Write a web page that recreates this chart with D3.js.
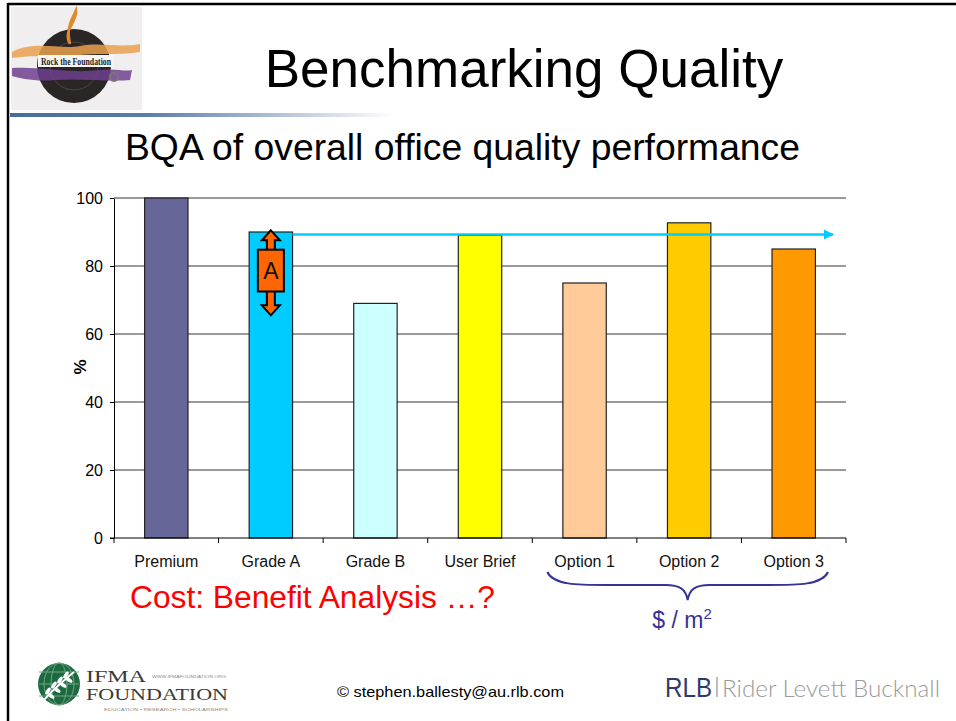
<!DOCTYPE html>
<html>
<head>
<meta charset="utf-8">
<script src="https://cdn.jsdelivr.net/npm/d3@7"></script>
<style>
  body { margin: 0; background: #fff; }
  svg { display: block; font-family: Arial, "Liberation Sans", sans-serif; }
</style>
</head>
<body>
<div id="graf"></div>
<script>
// -- Datos del gráfico
categorias = ['Premium', 'Grade A', 'Grade B', 'User Brief', 'Option 1', 'Option 2', 'Option 3']
valores = [100, 90, 69, 89, 75, 92.7, 85]
colores = ['#666699', '#00CCFF', '#CCFFFF', '#FFFF00', '#FFCC99', '#FFCC00', '#FF9900']
yTicks = [0, 20, 40, 60, 80, 100]
benchmark = 89.3          // línea azul con flecha
flechaA = [65.5, 90.5]    // extremos de la flecha doble "A"
cajaA = [72.5, 84.8]      // caja con la letra A
opciones = ['Option 1', 'Option 2', 'Option 3']

// -- Configuración del canvas
ancho_total = 956
alto_total = 721
margins = {top: 198, left: 114, right: 110, bottom: 183}
ancho = ancho_total - margins.left - margins.right
alto = alto_total - margins.top - margins.bottom

svg = d3.select('#graf').append('svg')
        .attr('width', ancho_total)
        .attr('height', alto_total)

defs = svg.append('defs')
grad = defs.append('linearGradient').attr('id', 'gradLinea')
grad.append('stop').attr('offset', '0%').attr('stop-color', '#4a6c9c')
grad.append('stop').attr('offset', '35%').attr('stop-color', '#5b7ba8')
grad.append('stop').attr('offset', '100%').attr('stop-color', '#ffffff')

defs.append('marker')
    .attr('id', 'punta')
    .attr('viewBox', '0 0 10 10')
    .attr('refX', 9).attr('refY', 5)
    .attr('markerUnits', 'userSpaceOnUse')
    .attr('markerWidth', 10).attr('markerHeight', 10)
    .attr('orient', 'auto')
  .append('path')
    .attr('d', 'M0,0 L10,5 L0,10 Z')
    .attr('fill', '#00CCFF')

// -- Marco de la diapositiva
svg.append('line').attr('x1', 8).attr('x2', ancho_total).attr('y1', 4).attr('y2', 4)
    .attr('stroke', '#000').attr('stroke-width', 2.5)
svg.append('line').attr('x1', 8).attr('x2', 8).attr('y1', 3).attr('y2', alto_total)
    .attr('stroke', '#000').attr('stroke-width', 2.5)
svg.append('rect').attr('x', 10).attr('y', 113).attr('width', 385).attr('height', 4)
    .attr('fill', 'url(#gradLinea)')

// -- Logo superior izquierdo (aproximado)
logo = svg.append('g')
logo.append('rect').attr('x', 11).attr('y', 7).attr('width', 131).attr('height', 103).attr('fill', '#f0eeee')
logo.append('circle').attr('cx', 74).attr('cy', 66).attr('r', 37).attr('fill', '#2b2626')
logo.append('circle').attr('cx', 74).attr('cy', 66).attr('r', 24).attr('fill', 'none').attr('stroke', '#4a4444').attr('stroke-width', 1)
logo.append('path')
    .attr('d', 'M12,52 C35,40 60,50 80,46 C100,42 120,48 140,44 L140,52 C115,56 95,52 75,56 C55,58 35,54 12,58 Z')
    .attr('fill', '#e9a04e').attr('opacity', 0.85)
logo.append('path')
    .attr('d', 'M70,44 C62,30 78,22 76,10 C72,20 66,26 70,44')
    .attr('fill', 'none').attr('stroke', '#e08a30').attr('stroke-width', 2.5)
logo.append('path')
    .attr('d', 'M12,68 C40,66 70,74 100,70 C115,68 125,72 132,70 L130,80 C110,82 80,78 55,80 C35,82 20,78 12,76 Z')
    .attr('fill', '#6e3f8e').attr('opacity', 0.85)
logo.append('rect').attr('x', 38).attr('y', 55).attr('width', 76).attr('height', 12).attr('fill', '#f7f5f2')
logo.append('text').attr('x', 76).attr('y', 64.5).attr('text-anchor', 'middle')
    .attr('font-family', '"Liberation Serif", serif').attr('font-weight', 'bold')
    .attr('font-size', 10).attr('textLength', 70).attr('lengthAdjust', 'spacingAndGlyphs')
    .attr('fill', '#1e1e1e').text('Rock the Foundation')
logo.append('circle').attr('cx', 114).attr('cy', 77).attr('r', 4).attr('fill', 'none')
    .attr('stroke', '#777').attr('stroke-width', 2)

// -- Títulos
svg.append('text').attr('x', 524).attr('y', 87).attr('text-anchor', 'middle')
    .attr('font-size', 53).attr('fill', '#000').text('Benchmarking Quality')
svg.append('text').attr('x', 125).attr('y', 160)
    .attr('font-size', 37).attr('textLength', 675).attr('lengthAdjust', 'spacingAndGlyphs')
    .attr('fill', '#000').text('BQA of overall office quality performance')

// -- Contenedor interno
g = svg.append('g')
        .attr('transform', `translate(${margins.left}, ${margins.top})`)

// -- Escaladores
x = d3.scaleBand().domain(categorias).range([0, ancho]).paddingInner(0.585).paddingOuter(0.2925)
y = d3.scaleLinear().domain([0, 100]).range([alto, 0])
color = d3.scaleOrdinal().domain(categorias).range(colores)

datos = categorias.map((c, i) => ({cat: c, val: valores[i]}))

// -- Grid
g.selectAll('.grid')
    .data(yTicks.filter(d => d > 0))
    .enter().append('line')
    .attr('class', 'grid')
    .attr('x1', 0).attr('x2', ancho)
    .attr('y1', d => y(d)).attr('y2', d => y(d))
    .attr('stroke', '#333').attr('stroke-width', 1)

// -- Eje Y
yAxis = d3.axisLeft(y).tickValues(yTicks).tickSize(4).tickSizeOuter(0).tickPadding(7)
ejeY = g.append('g').call(yAxis)
ejeY.attr('font-size', 16).attr('font-family', 'Arial, "Liberation Sans", sans-serif')
ejeY.selectAll('text').attr('fill', '#000')
ejeY.selectAll('line, path').attr('stroke', '#000')

svg.append('text')
    .attr('transform', 'translate(86, 367) rotate(-90)')
    .attr('text-anchor', 'middle')
    .attr('font-size', 17).attr('font-weight', 'bold')
    .text('%')

// -- Barras
g.selectAll('.barra')
    .data(datos)
    .enter().append('rect')
    .attr('class', 'barra')
    .attr('x', d => x(d.cat))
    .attr('y', d => y(d.val))
    .attr('width', x.bandwidth())
    .attr('height', d => y(0) - y(d.val))
    .attr('fill', d => color(d.cat))
    .attr('stroke', '#222').attr('stroke-width', 1.2)

// -- Eje X (marcas en los límites de cada categoría)
hueco = (x.step() - x.bandwidth()) / 2
limites = categorias.map(c => x(c) - hueco).concat([ancho])
g.append('line').attr('x1', -4).attr('x2', ancho).attr('y1', alto).attr('y2', alto)
    .attr('stroke', '#000')
g.selectAll('.marcaX')
    .data(limites)
    .enter().append('line')
    .attr('x1', d => d).attr('x2', d => d)
    .attr('y1', alto).attr('y2', alto + 5)
    .attr('stroke', '#000')

xAxis = d3.axisBottom(x).tickSize(0).tickPadding(18)
ejeX = g.append('g').attr('transform', `translate(0,${alto})`).call(xAxis)
ejeX.select('.domain').remove()
ejeX.attr('font-size', 16).attr('font-family', 'Arial, "Liberation Sans", sans-serif')
ejeX.selectAll('text').attr('fill', '#111')

// -- Línea de referencia azul
g.append('line')
    .attr('x1', x('Grade A') + x.bandwidth()).attr('x2', ancho - 13)
    .attr('y1', y(benchmark)).attr('y2', y(benchmark))
    .attr('stroke', '#00CCFF').attr('stroke-width', 2.5)
    .attr('marker-end', 'url(#punta)')

// -- Flecha doble "A"
cx = x('Grade A') + x.bandwidth() / 2
arriba = y(flechaA[1])
abajo = y(flechaA[0])
hw = 4, hh = 9, hl = 10
g.append('path')
    .attr('d', `M${cx},${arriba} L${cx + hh},${arriba + hl} L${cx + hw},${arriba + hl} L${cx + hw},${abajo - hl} ` +
               `L${cx + hh},${abajo - hl} L${cx},${abajo} L${cx - hh},${abajo - hl} L${cx - hw},${abajo - hl} ` +
               `L${cx - hw},${arriba + hl} L${cx - hh},${arriba + hl} Z`)
    .attr('fill', '#FF6600').attr('stroke', '#000').attr('stroke-width', 2)
    .attr('stroke-linejoin', 'miter')
g.append('rect')
    .attr('x', cx - 13).attr('y', y(cajaA[1]))
    .attr('width', 26).attr('height', y(cajaA[0]) - y(cajaA[1]))
    .attr('fill', '#FF6600').attr('stroke', '#000').attr('stroke-width', 2)
g.append('text')
    .attr('x', cx).attr('y', (y(cajaA[0]) + y(cajaA[1])) / 2 + 8)
    .attr('text-anchor', 'middle').attr('font-size', 23).attr('fill', '#111')
    .text('A')

// -- Llave bajo las opciones
x0 = x(opciones[0]) - hueco + 15
x1 = x(opciones[2]) + x.bandwidth() + hueco - 18
mid = (x0 + x1) / 2
yb = alto + 34, yh = alto + 47, yp = alto + 62
g.append('path')
    .attr('d', `M${x0},${yb} C${x0 + 6},${yh} ${x0 + 30},${yh} ${x0 + 60},${yh} ` +
               `L${mid - 22},${yh} C${mid - 8},${yh} ${mid - 2},${yh + 4} ${mid},${yp} ` +
               `C${mid + 2},${yh + 4} ${mid + 8},${yh} ${mid + 22},${yh} ` +
               `L${x1 - 60},${yh} C${x1 - 30},${yh} ${x1 - 6},${yh} ${x1},${yb}`)
    .attr('fill', 'none').attr('stroke', '#333399').attr('stroke-width', 2)

unidad = svg.append('text').attr('x', 682).attr('y', 628).attr('text-anchor', 'middle')
    .attr('font-size', 23).attr('fill', '#333399')
unidad.append('tspan').text('$ / m')
unidad.append('tspan').attr('font-size', 15).attr('dy', -9).text('2')

svg.append('text').attr('x', 130).attr('y', 608)
    .attr('font-size', 31).attr('textLength', 365).attr('lengthAdjust', 'spacingAndGlyphs')
    .attr('fill', '#FF0000')
    .text('Cost: Benefit Analysis …?')

// -- Pie de página
ifma = svg.append('g')
ifma.append('circle').attr('cx', 59).attr('cy', 684).attr('r', 21).attr('fill', '#1d6a40')
;[8, 15].forEach(rx => {
    ifma.append('ellipse').attr('cx', 59).attr('cy', 684).attr('rx', rx).attr('ry', 21)
        .attr('fill', 'none').attr('stroke', '#6fa585').attr('stroke-width', 1)
})
;[-12, 0, 12].forEach(dy => {
    ifma.append('line').attr('x1', 39).attr('x2', 79).attr('y1', 684 + dy).attr('y2', 684 + dy)
        .attr('stroke', '#6fa585').attr('stroke-width', 1)
})
ifma.append('path').attr('d', 'M44,700 C52,690 60,684 74,672')
    .attr('fill', 'none').attr('stroke', '#fff').attr('stroke-width', 2)
;[[48, 694], [54, 688], [60, 683], [66, 678]].forEach(p => {
    ifma.append('ellipse').attr('cx', p[0]).attr('cy', p[1] - 3).attr('rx', 1.8).attr('ry', 4)
        .attr('transform', `rotate(35 ${p[0]} ${p[1] - 3})`).attr('fill', '#fff')
    ifma.append('ellipse').attr('cx', p[0] + 3).attr('cy', p[1] + 2).attr('rx', 1.8).attr('ry', 4)
        .attr('transform', `rotate(-55 ${p[0] + 3} ${p[1] + 2})`).attr('fill', '#fff')
})
serif = '"Liberation Serif", "DejaVu Serif", serif'
ifma.append('text').attr('x', 86).attr('y', 682).attr('font-family', serif).attr('font-size', 16)
    .attr('textLength', 60).attr('lengthAdjust', 'spacingAndGlyphs').attr('fill', '#3a3a3a').text('IFMA')
ifma.append('text').attr('x', 86).attr('y', 700).attr('font-family', serif).attr('font-size', 16)
    .attr('textLength', 142).attr('lengthAdjust', 'spacingAndGlyphs').attr('fill', '#3a3a3a').text('FOUNDATION')
ifma.append('text').attr('x', 152).attr('y', 678).attr('font-size', 4)
    .attr('textLength', 74).attr('lengthAdjust', 'spacingAndGlyphs').attr('fill', '#888').text('WWW.IFMAFOUNDATION.ORG')
ifma.append('text').attr('x', 104).attr('y', 711).attr('font-size', 4)
    .attr('textLength', 124).attr('lengthAdjust', 'spacingAndGlyphs').attr('fill', '#888')
    .text('EDUCATION  •  RESEARCH  •  SCHOLARSHIPS')

svg.append('text').attr('x', 337).attr('y', 697).attr('font-size', 15)
    .attr('textLength', 227).attr('lengthAdjust', 'spacingAndGlyphs').attr('fill', '#000')
    .text('© stephen.ballesty@au.rlb.com')

svg.append('text').attr('x', 665).attr('y', 697).attr('font-size', 28)
    .attr('textLength', 47).attr('lengthAdjust', 'spacingAndGlyphs').attr('fill', '#2c3d6b')
    .text('RLB')
svg.append('line').attr('x1', 717).attr('x2', 717).attr('y1', 677).attr('y2', 697)
    .attr('stroke', '#aaa').attr('stroke-width', 1.5)
svg.append('text').attr('x', 722).attr('y', 697).attr('font-size', 24)
    .attr('font-family', 'Lato, "Open Sans", sans-serif').attr('font-weight', 300)
    .attr('textLength', 218).attr('lengthAdjust', 'spacingAndGlyphs').attr('fill', '#9a9a9a')
    .text('Rider Levett Bucknall')
</script>
</body>
</html>
